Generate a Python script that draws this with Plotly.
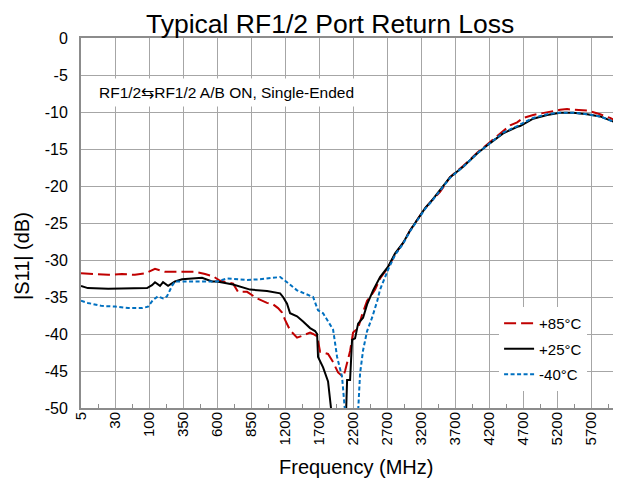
import numpy as np
import plotly.graph_objects as go

# ---- axis categories (MHz) ----
tick_freqs = [5, 30, 100, 350, 600, 850, 1200, 1700, 2200, 2700, 3200, 3700, 4200, 4700, 5200, 5700]
tick_labels = [str(v) for v in tick_freqs]
y_ticks = [0, -5, -10, -15, -20, -25, -30, -35, -40, -45, -50]
y_labels = ["0", "-5", "-10", "-15", "-20", "-25", "-30", "-35", "-40", "-45", "-50"]

# ---- +85 C ----
f_85 = [5, 15, 25, 44, 71, 92, 144, 218, 291, 387, 438, 512, 571, 622, 718, 754, 821, 912, 963,
        1014, 1077, 1128, 1169, 1200, 1274, 1318, 1376, 1465, 1568, 1612, 1671, 1715, 1832, 1906,
        1979, 2053, 2082, 2156, 2200, 2274, 2332, 2406, 2450, 2524, 2597, 2715, 2818, 2935, 3038,
        3141, 3259, 3362, 3479, 3626, 3818, 4024, 4215, 4406, 4509, 4612, 4700, 4847, 5053, 5141,
        5244, 5347, 5435, 5641, 5832, 5979, 6080]
s_85 = [-31.8, -31.9, -32.0, -31.9, -32.0, -31.8, -31.2, -31.6, -31.6, -31.7, -31.6, -31.9, -32.2,
        -32.8, -33.2, -34.3, -34.3, -35.2, -35.5, -35.8, -36.0, -36.5, -37.1, -38.1, -39.5, -40.0,
        -40.5, -40.2, -39.8, -40.0, -40.3, -42.4, -42.7, -43.8, -45.2, -45.8, -45.0, -42.3, -39.8,
        -39.2, -37.4, -35.5, -35.0, -34.0, -32.5, -31.0, -29.2, -27.7, -26.0, -24.6, -23.0, -21.9,
        -20.8, -18.8, -17.3, -15.5, -14.0, -12.6, -11.8, -11.4, -10.8, -10.4, -10.0, -9.8, -9.7,
        -9.6, -9.7, -9.8, -10.3, -10.8, -11.3]

# ---- +25 C ----
f_25 = [5, 10, 25, 57, 86, 96, 122, 144, 181, 203, 240, 291, 343, 438, 490, 563, 600, 718, 843,
        1014, 1149, 1179, 1229, 1274, 1376, 1465, 1568, 1641, 1671, 1685, 1759, 1832, 1891, 1935,
        2009, 2082, 2112, 2156, 2185, 2229, 2274, 2347, 2406, 2494, 2597, 2715, 2818, 2935, 3038,
        3141, 3259, 3362, 3479, 3626, 3818, 4024, 4215, 4406, 4612, 4656, 4847, 5053, 5244, 5435,
        5641, 5832, 6080]
s_25 = [-33.5, -33.8, -33.9, -33.9, -33.8, -33.8, -33.4, -33.0, -33.5, -33.0, -33.5, -32.9, -32.6,
        -32.5, -32.4, -32.9, -32.9, -33.3, -34.0, -34.2, -34.5, -35.0, -35.9, -37.2, -37.6, -38.3,
        -39.2, -39.6, -40.0, -43.1, -44.5, -46.4, -50.5, -55.0, -58.0, -55.0, -46.2, -46.2, -40.8,
        -40.6, -38.6, -37.8, -36.0, -34.1, -32.3, -30.9, -29.1, -27.7, -26.0, -24.6, -23.0, -21.9,
        -20.5, -18.8, -17.4, -15.6, -14.2, -12.9, -12.0, -11.9, -10.9, -10.4, -10.1, -10.1, -10.3,
        -10.6, -11.5]

# ---- -40 C ----
f_m40 = [5, 10, 20, 30, 57, 86, 98, 129, 166, 203, 232, 269, 291, 387, 490, 563, 600, 674, 821,
         943, 1149, 1229, 1376, 1612, 1685, 1759, 1832, 1906, 1965, 2038, 2082, 2156, 2229, 2274,
         2303, 2347, 2406, 2479, 2553, 2597, 2715, 2818, 2935, 3038, 3141, 3259, 3362, 3479, 3626,
         3818, 4024, 4215, 4406, 4612, 4847, 5053, 5244, 5435, 5641, 5832, 6080]
s_m40 = [-35.5, -35.8, -36.2, -36.3, -36.5, -36.5, -36.3, -35.4, -34.9, -35.2, -34.9, -33.5, -32.9,
         -32.9, -33.0, -33.0, -32.9, -32.5, -32.7, -32.6, -32.3, -33.0, -34.1, -35.0, -36.8, -37.2,
         -38.3, -39.4, -43.1, -45.8, -50.5, -56.0, -55.0, -50.5, -45.3, -42.2, -39.6, -37.8, -35.6,
         -34.0, -31.3, -29.3, -27.8, -26.1, -24.7, -23.1, -22.0, -20.6, -18.9, -17.4, -15.6, -14.2,
         -12.8, -11.9, -10.8, -10.3, -10.1, -10.1, -10.3, -10.6, -11.5]

# category-style x scale: each labelled frequency is one equal step
scale_f = tick_freqs + [6200]
scale_p = list(range(len(scale_f)))


def to_pos(freqs):
    return np.interp(np.asarray(freqs, dtype=float), scale_f, scale_p)


FONT = "Liberation Sans, Arial, sans-serif"

fig = go.Figure()
series = [
    ("+85°C", f_85, s_85, dict(color="#c00000", width=2, dash="12px,5px")),
    ("+25°C", f_25, s_25, dict(color="#000000", width=2)),
    ("-40°C", f_m40, s_m40, dict(color="#0070c0", width=2, dash="4px,2.5px")),
]
for name, fx, sy, line in series:
    fig.add_trace(go.Scatter(x=to_pos(fx), y=sy, mode="lines", name=name, line=line,
                             legendgroup=name, cliponaxis=True))

x_end = float(to_pos([6080])[0])

fig.update_layout(
    width=621, height=484,
    margin=dict(l=73, r=12, t=30, b=84, autoexpand=False),
    paper_bgcolor="white", plot_bgcolor="white",
    font=dict(family=FONT, color="black", size=14),
    showlegend=True,
    legend=dict(x=0.78, y=0.273, xanchor="left", yanchor="top", bgcolor="white",
                font=dict(size=15, family=FONT), tracegroupgap=3, itemwidth=30),
    xaxis=dict(range=[0, x_end], tickmode="array", tickvals=list(range(len(tick_labels))),
               ticktext=tick_labels, tickangle=-90, showgrid=True, gridcolor="#a6a6a6",
               gridwidth=1, showline=True, linecolor="#8c8c8c", linewidth=2, mirror=True,
               ticks="", tickfont=dict(size=15, family=FONT), zeroline=False, automargin=False,
               ticklabelstandoff=-4,
               minor=dict(tickmode="array", tickvals=[i + 0.5 for i in range(len(tick_labels))],
                          ticks="inside", ticklen=4, tickcolor="#8c8c8c", showgrid=False)),
    yaxis=dict(range=[-50, 0], tickmode="array", tickvals=y_ticks, ticktext=y_labels,
               showgrid=True, gridcolor="#a6a6a6", gridwidth=1, showline=True,
               linecolor="#8c8c8c", linewidth=2, mirror=True, ticks="", zeroline=False,
               automargin=False, ticklabelstandoff=8,
               tickfont=dict(size=16, family=FONT)),
)

# chart title
fig.add_annotation(text="Typical RF1/2 Port Return Loss", xref="paper", yref="paper",
                   x=0.464, y=1.0, yshift=30, xanchor="center", yanchor="top",
                   showarrow=False, borderpad=0, font=dict(size=26.5, family=FONT))
fig.add_annotation(text="RF1/2⇆RF1/2 A/B ON, Single-Ended", xref="paper", yref="paper",
                   x=0.0224, y=0.854, xanchor="left", yanchor="middle", showarrow=False,
                   bgcolor="white", borderpad=5, font=dict(size=15.5, family=FONT))
# axis titles
fig.add_annotation(text="Frequency (MHz)", xref="paper", yref="paper", x=0.513, y=-0.159,
                   xanchor="center", yanchor="middle", showarrow=False,
                   font=dict(size=20, family=FONT))
fig.add_annotation(text="|S11| (dB)", xref="paper", yref="paper", x=-0.11, y=0.411,
                   xanchor="center", yanchor="middle", textangle=-90, showarrow=False,
                   font=dict(size=20, family=FONT))

fig.write_html("out.html")
